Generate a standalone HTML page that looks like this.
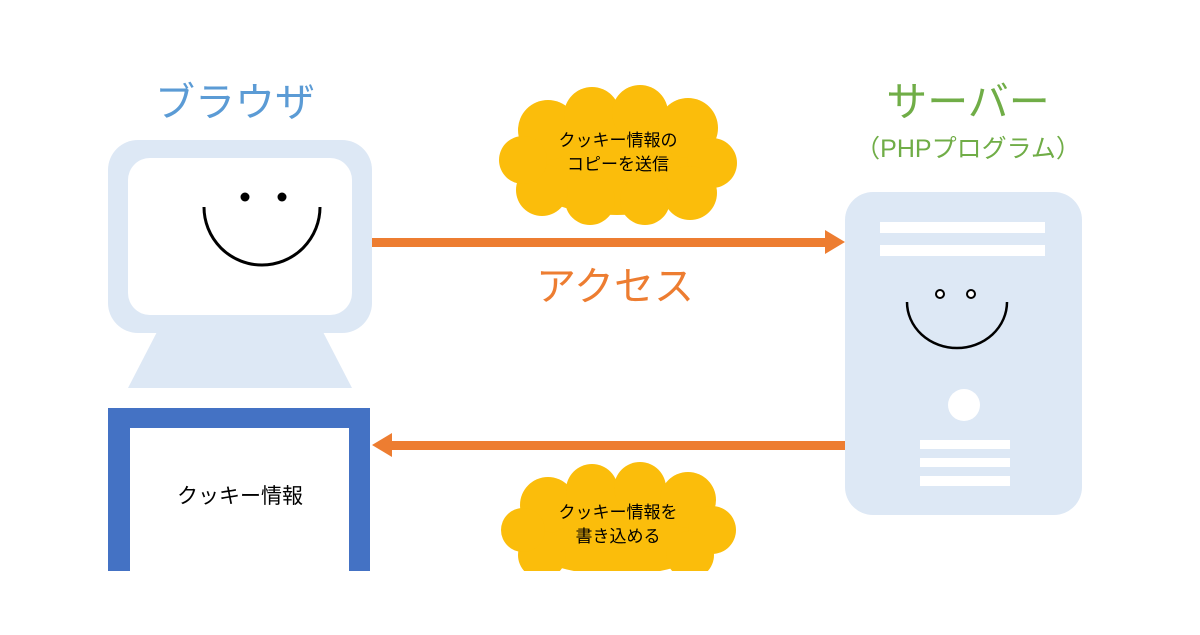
<!DOCTYPE html>
<html><head><meta charset="utf-8"><style>
body{margin:0;width:1200px;height:630px;background:#fff;overflow:hidden;font-family:"Liberation Sans","Noto Sans CJK JP",sans-serif;}
</style></head><body>
<svg width="1200" height="630" viewBox="0 0 1200 630" xmlns="http://www.w3.org/2000/svg" font-family="Liberation Sans, Noto Sans CJK JP, sans-serif">
<rect width="1200" height="630" fill="#fff"/>
<text x="235" y="116" font-size="40" fill="#5b9bd5" text-anchor="middle">ブラウザ</text>
<text x="968" y="116" font-size="41" fill="#70ad47" text-anchor="middle">サーバー</text>
<text x="968" y="157" font-size="25" fill="#70ad47" text-anchor="middle">（PHPプログラム）</text>
<text x="615" y="300" font-size="40" fill="#ed7d31" text-anchor="middle">アクセス</text>
<rect x="108" y="140" width="264" height="193" rx="30" fill="#dde8f5"/>
<rect x="128" y="158" width="224" height="157" rx="22" fill="#fff"/>
<polygon points="158,330 322,330 352,388 128,388" fill="#dde8f5"/>
<circle cx="245" cy="197" r="4.5" fill="#000"/>
<circle cx="282" cy="197" r="4.5" fill="#000"/>
<path d="M204,207 A58,58 0 0 0 320,207" fill="none" stroke="#000" stroke-width="3"/>
<rect x="108" y="408" width="262" height="170" fill="#4472c4"/>
<rect x="130" y="428" width="219" height="150" fill="#fff"/>
<text x="240" y="503" font-size="21" fill="#000" text-anchor="middle">クッキー情報</text>
<rect x="0" y="571" width="1200" height="59" fill="#fff"/>
<rect x="845" y="192" width="237" height="323" rx="28" fill="#dde8f5"/>
<rect x="880" y="222" width="165" height="11" fill="#fff"/>
<rect x="880" y="245" width="165" height="11" fill="#fff"/>
<circle cx="940" cy="294" r="4" fill="#fff" stroke="#000" stroke-width="2"/>
<circle cx="971" cy="294" r="4" fill="#fff" stroke="#000" stroke-width="2"/>
<path d="M907,302 A50,46 0 0 0 1007,302" fill="none" stroke="#000" stroke-width="2.5"/>
<circle cx="964" cy="405" r="16" fill="#fff"/>
<rect x="920" y="440" width="90" height="9" fill="#fff"/>
<rect x="920" y="458" width="90" height="9" fill="#fff"/>
<rect x="920" y="476" width="90" height="10" fill="#fff"/>
<rect x="372" y="238" width="460" height="9" fill="#ed7d31"/>
<polygon points="825,230 845,242 825,254" fill="#ed7d31"/>
<rect x="388" y="441" width="457" height="9" fill="#ed7d31"/>
<polygon points="392,433 372,445 392,457" fill="#ed7d31"/>
<g fill="#fbbd0b">
<ellipse cx="617" cy="160" rx="105" ry="55"/>
<circle cx="548" cy="130" r="30"/>
<circle cx="592" cy="115" r="28"/>
<circle cx="640" cy="113" r="28"/>
<circle cx="688" cy="128" r="30"/>
<circle cx="712" cy="163" r="25"/>
<circle cx="690" cy="193" r="27"/>
<circle cx="645" cy="200" r="25"/>
<circle cx="590" cy="200" r="25"/>
<circle cx="542" cy="190" r="26"/>
<circle cx="523" cy="160" r="24"/>
</g>
<g fill="#fbbd0b">
<ellipse cx="617" cy="530" rx="105" ry="45"/>
<circle cx="548" cy="505" r="28"/>
<circle cx="592" cy="490" r="26"/>
<circle cx="640" cy="488" r="26"/>
<circle cx="688" cy="500" r="28"/>
<circle cx="712" cy="530" r="24"/>
<circle cx="690" cy="555" r="24"/>
<circle cx="542" cy="555" r="24"/>
<circle cx="523" cy="530" r="22"/>
</g>
<rect x="480" y="571" width="280" height="59" fill="#fff"/>
<text x="618" y="146" font-size="17" fill="#000" text-anchor="middle">クッキー情報の</text>
<text x="618" y="170" font-size="17" fill="#000" text-anchor="middle">コピーを送信</text>
<text x="618" y="518" font-size="17" fill="#000" text-anchor="middle">クッキー情報を</text>
<text x="618" y="542" font-size="17" fill="#000" text-anchor="middle">書き込める</text>
</svg>
</body></html>
